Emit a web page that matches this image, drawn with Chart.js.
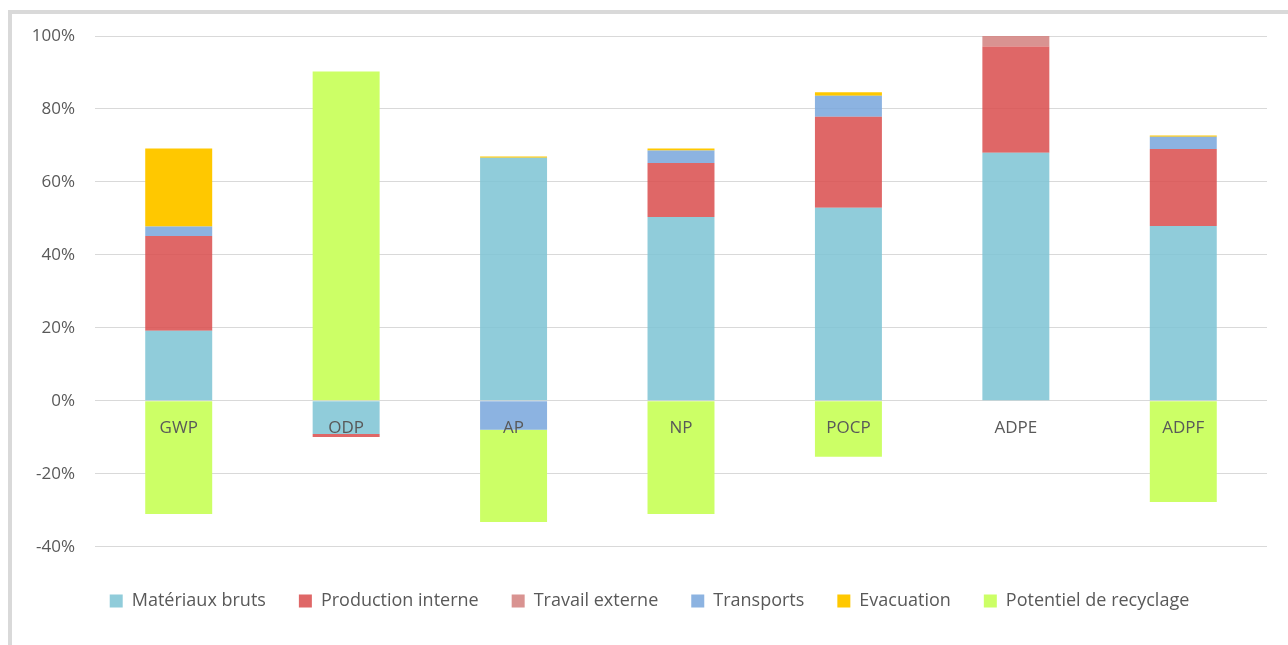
<!DOCTYPE html>
<html>
<head>
<meta charset="utf-8">
<script src="https://cdn.jsdelivr.net/npm/chart.js@4"></script>
<style>
  html, body { margin: 0; padding: 0; background: #fff; overflow: hidden; }
  #wrap { position: relative; width: 1288px; height: 645px; }
  #frame { position: absolute; left: 8px; top: 10px; width: 1300px; height: 660px;
           border-left: 4px solid #d9d9d9; border-top: 4px solid #d9d9d9; box-sizing: border-box; }
  #chart { position: absolute; left: 0; top: 0; }
</style>
</head>
<body>
<div id="wrap">
  <div id="frame"></div>
  <canvas id="chart" width="1288" height="645"></canvas>
</div>
<script>
const categories = ['GWP', 'ODP', 'AP', 'NP', 'POCP', 'ADPE', 'ADPF'];

// values in %
const materiauxBruts     = [19.2, -9.1, 66.6, 50.4, 52.9, 68.0, 47.9];
const productionInterne  = [26.0, -0.8, null, 14.8, 25.0, 29.1, 21.1];
const travailExterne     = [null, null, null, null, null, 2.9, null];
const transports         = [2.6, null, -7.9, 3.4, 5.7, null, 3.4];
const evacuation         = [21.4, null, 0.4, 0.6, 1.0, null, 0.3];
const potentielRecyclage = [-31.0, 90.3, -25.3, -31.0, -15.3, null, -27.7];

const yTicks = [-40, -20, 0, 20, 40, 60, 80, 100];

const textColor = '#595959';
const fontFamily = '"Open Sans", sans-serif';

function ds(label, data, color) {
  return { label, data, backgroundColor: color, borderWidth: 0,
           barPercentage: 0.4, categoryPercentage: 1.0 };
}

// category names sit just under the 0 line, drawn over the bars
const categoryLabels = {
  id: 'categoryLabels',
  afterDatasetsDraw(chart) {
    const { ctx, scales: { x, y } } = chart;
    const y0 = y.getPixelForValue(0);
    ctx.save();
    ctx.fillStyle = textColor;
    ctx.font = '17px ' + fontFamily;
    ctx.textAlign = 'center';
    ctx.textBaseline = 'middle';
    categories.forEach((c, i) => ctx.fillText(c, x.getPixelForValue(i), y0 + 27));
    ctx.restore();
  },
};

new Chart(document.getElementById('chart'), {
  type: 'bar',
  data: {
    labels: categories,
    datasets: [
      ds('Matériaux bruts', materiauxBruts, 'rgba(125,195,212,0.85)'),
      ds('Production interne', productionInterne, 'rgba(217,76,76,0.85)'),
      ds('Travail externe', travailExterne, 'rgba(210,128,126,0.85)'),
      ds('Transports', transports, 'rgba(120,166,220,0.85)'),
      ds('Evacuation', evacuation, 'rgba(255,200,0,1)'),
      ds('Potentiel de recyclage', potentielRecyclage, 'rgba(204,255,102,1)'),
    ],
  },
  plugins: [categoryLabels],
  options: {
    responsive: false,
    animation: false,
    layout: { padding: { left: 32, right: 21, top: 36, bottom: 25 } },
    plugins: {
      tooltip: { enabled: false },
      legend: {
        position: 'bottom',
        title: { display: true, text: ' ', font: { size: 6 }, padding: { top: 0, bottom: 5 } },
        labels: {
          color: textColor,
          font: { family: fontFamily, size: 18 },
          boxWidth: 13,
          boxHeight: 13,
          padding: 33,
        },
      },
    },
    scales: {
      x: {
        stacked: true,
        display: false,
      },
      y: {
        stacked: true,
        min: -40,
        max: 100,
        afterBuildTicks: (s) => { s.ticks = yTicks.map(v => ({ value: v })); },
        afterFit: (s) => { s.width = 63; },
        grid: { color: '#d9d9d9', lineWidth: 1, drawTicks: false },
        border: { display: false },
        ticks: {
          color: textColor,
          font: { family: fontFamily, size: 17 },
          padding: 20,
          callback: (v) => v + '%',
        },
      },
    },
  },
});
</script>
</body>
</html>
